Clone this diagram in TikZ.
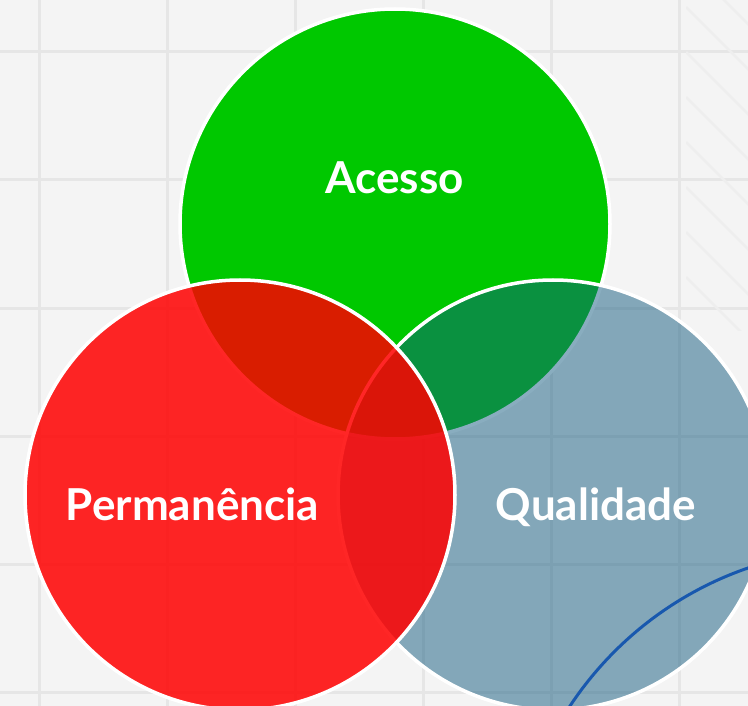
\documentclass[tikz,border=0pt]{standalone}
\usepackage{fontspec}
\setmainfont{Lato}
\usetikzlibrary{positioning}
\definecolor{bgcol}{HTML}{F4F4F4}
\definecolor{gridcol}{HTML}{E6E6E6}
\definecolor{stripecol}{HTML}{EEEEEE}
\definecolor{acessocol}{HTML}{00C800}
\definecolor{qualidadecol}{HTML}{145C80}
\definecolor{permanenciacol}{HTML}{FF0000}
\definecolor{arccol}{HTML}{1858AE}
\tikzset{
  venn/.style      = {circle, draw=white, line width=3.5pt, minimum size=430pt,
                      inner sep=0pt},
  vennlabel/.style = {text=white, anchor=base, inner sep=0pt,
                      font=\fontsize{44}{50}\selectfont\bfseries},
  gridline/.style  = {draw=gridcol, line width=3pt},
  stripe/.style    = {draw=stripecol, line width=2.5pt}
}

\begin{document}
\begin{tikzpicture}[x=1pt, y=-1pt]

% background and grid
\fill[bgcol] (0,0) rectangle (748,706);
\useasboundingbox (0,0) rectangle (748,706);
\foreach \gx in {39,167,...,679}
  \draw[gridline] (\gx,0) -- (\gx,706);
\foreach \gy in {52,180,...,692}
  \draw[gridline] (0,\gy) -- (748,\gy);
\begin{scope}
  \clip (686,0) rectangle (748,330);
  \foreach \sy in {-83,-38,...,320}
    \draw[stripe] (686,\sy) -- ++(120,120);
\end{scope}

% the three circles
\node[venn, fill=acessocol] (acesso) at (395,224) {};
\node[venn, fill=qualidadecol, fill opacity=0.5] (qualidade) at (553,495) {};
\node[venn, fill=permanenciacol, fill opacity=0.85] (permanencia) at (240,495) {};

% arc in the corner
\draw[arccol, line width=3pt] (862,899) ++(180:350) arc (180:270:350);

% labels
\node[vennlabel] (lblacesso) at (394.5,194) {Acesso};
\node[vennlabel] (lblpermanencia) at (192.5,520) {Permanência};
\node[vennlabel] (lblqualidade) at (596,520) {Qualidade};

\end{tikzpicture}
\end{document}
